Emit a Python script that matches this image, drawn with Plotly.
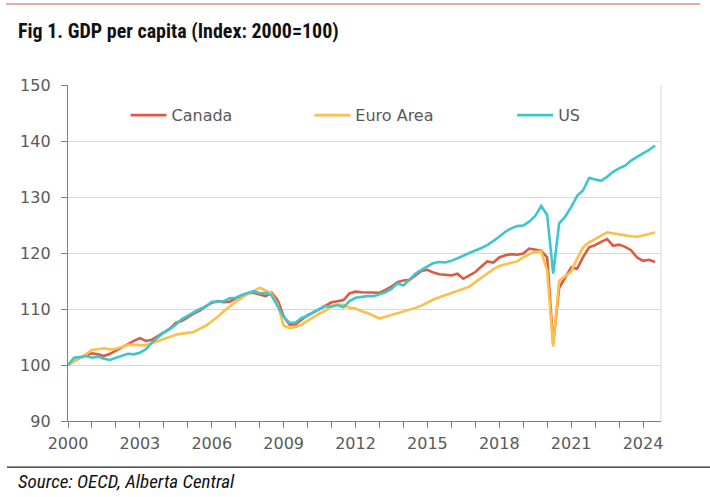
import plotly.graph_objects as go

# quarterly index values, 2000Q1 .. 2024Q3 (2000 = 100)
quarters = [2000 + i / 4 for i in range(99)]

canada = [
    100.0, 100.7, 101.3, 101.7,
    102.1, 101.9, 101.6, 102.0,
    102.6, 103.2, 103.8, 104.3,
    104.8, 104.3, 104.5, 105.2,
    105.8, 106.5, 107.5, 107.9,
    108.5, 109.2, 109.7, 110.5,
    111.1, 111.4, 111.2, 111.3,
    111.9, 112.3, 112.8, 112.9,
    112.6, 112.3, 112.9, 111.6,
    108.7, 107.2, 107.3, 108.1,
    108.9, 109.4, 110.0, 110.6,
    111.2, 111.4, 111.6, 112.8,
    113.1, 113.0, 113.0, 112.9,
    112.9, 113.4, 114.0, 114.8,
    115.1, 115.2, 116.0, 116.8,
    117.0, 116.5, 116.2, 116.1,
    116.0, 116.3, 115.4, 116.0,
    116.6, 117.6, 118.5, 118.3,
    119.2, 119.6, 119.8, 119.7,
    119.9, 120.8, 120.6, 120.4,
    119.2, 103.8, 113.8, 115.6,
    117.4, 117.2, 119.3, 121.0,
    121.4, 122.0, 122.5, 121.3,
    121.5, 121.1, 120.5, 119.2,
    118.6, 118.8, 118.4,
]

euro_area = [
    100.0, 100.6, 101.3, 101.9,
    102.7, 102.9, 103.0, 102.8,
    102.9, 103.2, 103.6, 103.6,
    103.5, 103.5, 103.9, 104.3,
    104.7, 105.1, 105.4, 105.6,
    105.7, 105.9, 106.5, 107.0,
    107.8, 108.6, 109.6, 110.5,
    111.3, 112.0, 112.7, 113.2,
    113.8, 113.3, 112.7, 110.8,
    107.0, 106.6, 106.8, 107.2,
    107.9, 108.6, 109.2, 109.7,
    110.6, 110.8, 110.7, 110.2,
    110.1, 109.6, 109.3, 108.8,
    108.3, 108.6, 108.9, 109.2,
    109.5, 109.8, 110.2, 110.6,
    111.2, 111.7, 112.1, 112.5,
    112.8, 113.3, 113.6, 114.0,
    114.8, 115.6, 116.4, 117.1,
    117.7, 118.0, 118.3, 118.5,
    119.2, 119.8, 120.2, 120.3,
    116.8, 103.3, 115.0, 115.8,
    116.7, 119.0, 121.0, 121.9,
    122.5, 123.2, 123.7, 123.5,
    123.3, 123.2, 123.0, 122.9,
    123.1, 123.4, 123.7,
]

us = [
    100.0, 101.3, 101.4, 101.6,
    101.3, 101.5, 101.1, 100.9,
    101.3, 101.6, 102.0, 101.9,
    102.2, 102.8, 104.0, 104.9,
    105.8, 106.4, 107.2, 108.2,
    108.8, 109.4, 110.0, 110.4,
    111.3, 111.3, 111.4, 111.9,
    112.0, 112.5, 112.9, 113.2,
    112.8, 112.9, 112.4, 110.5,
    108.6, 107.5, 107.6, 108.4,
    108.8, 109.5, 110.0, 110.5,
    110.4, 110.7, 110.3, 111.4,
    112.0, 112.2, 112.3, 112.3,
    112.6, 113.0, 113.6, 114.6,
    114.2, 115.3, 116.3, 117.0,
    117.6, 118.2, 118.4, 118.3,
    118.6, 119.0, 119.5, 120.0,
    120.4, 120.9, 121.4, 122.1,
    122.9, 123.8, 124.4, 124.8,
    124.9, 125.6, 126.6, 128.4,
    126.8, 116.3, 125.3, 126.5,
    128.2, 130.2, 131.2, 133.4,
    133.2, 132.9, 133.6, 134.5,
    135.1, 135.6, 136.5, 137.2,
    137.8, 138.4, 139.2,
]

series = [
    ("Canada", canada, "#DC5A42", "legend"),
    ("Euro Area", euro_area, "#FDBE4A", "legend2"),
    ("US", us, "#3DC6CE", "legend3"),
]

narrow = "Liberation Sans Narrow, Roboto Condensed, DejaVu Sans Condensed, sans-serif"
tick_font = dict(family="DejaVu Sans, Verdana, sans-serif", size=16, color="#595959")

fig = go.Figure()
for name, values, color, legend in series:
    fig.add_trace(
        go.Scatter(
            x=quarters,
            y=values,
            mode="lines",
            name=name,
            line=dict(color=color, width=2.6),
            legend=legend,
        )
    )


def legend_at(x):
    return dict(
        x=x, y=0.91, xanchor="left", yanchor="middle",
        orientation="h", bgcolor="rgba(0,0,0,0)",
        font=tick_font, itemwidth=36,
    )


fig.update_layout(
    width=710,
    height=497,
    margin=dict(l=68, r=49, t=85, b=76),
    paper_bgcolor="white",
    plot_bgcolor="white",
    legend=legend_at(0.097),
    legend2=legend_at(0.407),
    legend3=legend_at(0.749),
    showlegend=True,
)

fig.update_xaxes(
    range=[2000, 2024.75],
    tick0=2000,
    dtick=3,
    ticks="outside",
    ticklen=6,
    tickcolor="#808080",
    minor=dict(dtick=1, ticks="outside", ticklen=6, tickcolor="#808080"),
    showline=True,
    linecolor="#808080",
    linewidth=1.3,
    showgrid=False,
    zeroline=False,
    tickfont=tick_font,
    ticklabelstandoff=2,
)
fig.update_yaxes(
    range=[90, 150],
    dtick=10,
    ticks="outside",
    ticklen=6,
    tickcolor="#808080",
    showline=True,
    linecolor="#808080",
    linewidth=1.3,
    gridcolor="#D9D9D9",
    gridwidth=1,
    zeroline=False,
    tickfont=tick_font,
    ticklabelstandoff=7,
)

# frame lines and page decoration
fig.add_shape(type="line", xref="paper", yref="paper", x0=1, x1=1, y0=0, y1=1,
              line=dict(color="#D9D9D9", width=1))
fig.add_shape(type="line", xref="paper", yref="paper", x0=-0.105, x1=1.066, y0=1.241, y1=1.241,
              line=dict(color="#C0604E", width=1.2))
fig.add_shape(type="line", xref="paper", yref="paper", x0=-0.103, x1=1.083, y0=-0.137, y1=-0.137,
              line=dict(color="#222222", width=1.2))

fig.add_annotation(
    text="<b>Fig 1. GDP per capita (Index: 2000=100)</b>",
    xref="paper", yref="paper", x=-0.088, y=1.161,
    xanchor="left", yanchor="middle", showarrow=False,
    font=dict(family=narrow, size=20, color="#111111"),
)
fig.add_annotation(
    text="<i>Source: OECD, Alberta Central</i>",
    xref="paper", yref="paper", x=-0.088, y=-0.1815,
    xanchor="left", yanchor="middle", showarrow=False,
    font=dict(family=narrow, size=19, color="#111111"),
)

# the page body has a default 8px margin; drop it so the figure fills the window
fig.write_html(
    "out.html",
    config={"displayModeBar": False},
    post_script="document.body.style.margin = '0';",
)
